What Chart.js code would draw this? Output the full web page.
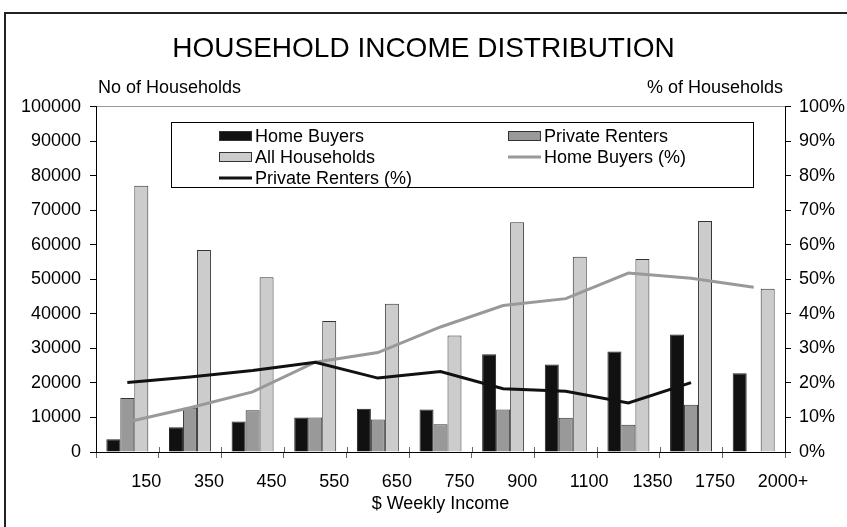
<!DOCTYPE html>
<html>
<head>
<meta charset="utf-8">
<title>Household Income Distribution</title>
<script src="https://cdn.jsdelivr.net/npm/chart.js@4"></script>
<style>
    body { margin: 0; background: #ffffff; }
    #wrap { width: 847px; height: 527px; position: relative; }
</style>
</head>
<body>
<div id="wrap"><canvas id="incomeChart" width="847" height="527"></canvas></div>
<script>
// Weekly income bands (x axis)
const incomeBands = ['150', '350', '450', '550', '650', '750', '900', '1100', '1350', '1750', '2000+'];

// Number of households (left axis)
const homeBuyers = [3700, 7200, 8800, 10000, 12500, 12300, 28300, 25300, 29100, 34000, 22800];
const privateRenters = [15600, 12800, 12100, 10000, 9400, 8000, 12300, 9900, 7900, 13700, null];
const allHouseholds = [77100, 58500, 50600, 37900, 42900, 33700, 66500, 56500, 55900, 66900, 47300];

// Percent of households (right axis)
const homeBuyersPct = [8.7, 12.8, 17.4, 26.0, 28.8, 36.2, 42.4, 44.4, 51.8, 50.3, 47.7];
const privateRentersPct = [20.1, 21.7, 23.6, 26.0, 21.4, 23.3, 18.3, 17.6, 14.2, 20.1];

// Axis ticks
const countMax = 100000;
const countStep = 10000;
const pctMax = 100;
const pctStep = 10;

const FONT = "'Liberation Sans', Arial, sans-serif";

// where each legend entry goes: [column x, row y]
const legendSlots = [[219, 136], [508, 136], [219, 157], [508, 157], [219, 178]];

// ── draws frame, axis captions and the boxed legend ──
const extrasPlugin = {
    id: 'extras',
    beforeDraw(chart) {
        const ctx = chart.ctx;
        ctx.save();
        ctx.strokeStyle = '#222';
        ctx.lineWidth = 2;
        ctx.strokeRect(5, 13, 900, 600);
        ctx.restore();
    },
    afterDraw(chart) {
        const ctx = chart.ctx;
        ctx.save();

        // short tick stubs above the x axis so the category ticks cross it
        const xs = chart.scales.x;
        const n = incomeBands.length;
        ctx.strokeStyle = '#666';
        ctx.lineWidth = 1;
        for (let i = 1; i < n; i++) {
            const px = Math.round(xs.left + i * (xs.width / n)) + 0.5;
            ctx.beginPath();
            ctx.moveTo(px, xs.top - 5);
            ctx.lineTo(px, xs.top);
            ctx.stroke();
        }

        ctx.font = '18px ' + FONT;
        ctx.fillStyle = '#000';
        ctx.textBaseline = 'middle';
        ctx.textAlign = 'left';
        ctx.fillText('No of Households', 98, 88);
        ctx.textAlign = 'right';
        ctx.fillText('% of Households', 783, 88);

        // legend box
        ctx.fillStyle = '#fff';
        ctx.fillRect(171, 122, 582, 65);
        ctx.strokeStyle = '#000';
        ctx.lineWidth = 1;
        ctx.strokeRect(171.5, 122.5, 582, 65);

        chart.data.datasets.forEach(function(ds, i) {
            const x = legendSlots[i][0];
            const y = legendSlots[i][1];
            if (ds.type === 'line') {
                ctx.strokeStyle = ds.borderColor;
                ctx.lineWidth = 3;
                ctx.beginPath();
                ctx.moveTo(x, y);
                ctx.lineTo(x + 33, y);
                ctx.stroke();
            } else {
                ctx.fillStyle = ds.backgroundColor;
                ctx.fillRect(x, y - 5, 33, 10);
                ctx.strokeStyle = '#333';
                ctx.lineWidth = 1;
                ctx.strokeRect(x + 0.5, y - 4.5, 32, 9);
            }
            ctx.fillStyle = '#000';
            ctx.textAlign = 'left';
            ctx.fillText(ds.label, x + 36, y + 1);
        });
        ctx.restore();
    }
};

let incomeChart = null;

function initChart() {
    const canvas = document.getElementById('incomeChart');
    const ctx = canvas.getContext('2d');

    incomeChart = new Chart(ctx, {
        type: 'bar',
        data: {
            labels: incomeBands,
            datasets: [
                {
                    label: 'Home Buyers',
                    data: homeBuyers,
                    backgroundColor: '#111111',
                    borderColor: '#222',
                    borderWidth: 1,
                    order: 2
                },
                {
                    label: 'Private Renters',
                    data: privateRenters,
                    backgroundColor: '#999999',
                    borderColor: '#333',
                    borderWidth: 1,
                    order: 2
                },
                {
                    label: 'All Households',
                    data: allHouseholds,
                    backgroundColor: '#cccccc',
                    borderColor: '#333',
                    borderWidth: 1,
                    order: 2
                },
                {
                    type: 'line',
                    label: 'Home Buyers (%)',
                    data: homeBuyersPct,
                    yAxisID: 'y1',
                    borderColor: '#999999',
                    borderWidth: 3,
                    pointRadius: 0,
                    tension: 0,
                    order: 1
                },
                {
                    type: 'line',
                    label: 'Private Renters (%)',
                    data: privateRentersPct,
                    yAxisID: 'y1',
                    borderColor: '#111111',
                    borderWidth: 3,
                    pointRadius: 0,
                    tension: 0,
                    order: 0
                }
            ]
        },
        options: {
            responsive: false,
            animation: false,
            datasets: {
                bar: { categoryPercentage: 0.67, barPercentage: 1.0 }
            },
            layout: { padding: { left: 0, right: 0, top: 0, bottom: 0 } },
            plugins: {
                legend: { display: false },
                tooltip: { enabled: false },
                title: {
                    display: true,
                    text: 'HOUSEHOLD INCOME DISTRIBUTION',
                    color: '#000',
                    font: { family: FONT, size: 28, weight: 'normal' },
                    padding: { top: 32, bottom: 41 }
                }
            },
            scales: {
                x: {
                    afterFit(scale) { scale.height = 75; },
                    grid: { offset: true, drawOnChartArea: false, tickLength: 6, tickColor: '#666' },
                    border: { color: '#000', width: 1 },
                    ticks: {
                        color: '#000',
                        font: { family: FONT, size: 18 },
                        align: 'start',
                        labelOffset: 4,
                        padding: 13,
                        maxRotation: 0,
                        autoSkip: false
                    },
                    title: {
                        display: true,
                        text: '$ Weekly Income',
                        color: '#000',
                        font: { family: FONT, size: 18 },
                        padding: { top: 0, bottom: 12 }
                    }
                },
                y: {
                    position: 'left',
                    min: 0,
                    max: countMax,
                    afterFit(scale) { scale.width = 96; },
                    grid: {
                        color: function(c) { return c.tick && c.tick.value === countMax ? '#999' : 'transparent'; },
                        tickColor: '#000',
                        tickLength: 6
                    },
                    border: { color: '#000', width: 1 },
                    ticks: {
                        stepSize: countStep,
                        color: '#000',
                        padding: 9,
                        font: { family: FONT, size: 18 },
                        callback: function(v) { return String(v); }
                    }
                },
                y1: {
                    position: 'right',
                    min: 0,
                    max: pctMax,
                    afterFit(scale) { scale.width = 62; },
                    grid: { drawOnChartArea: false, tickColor: '#000', tickLength: 6 },
                    border: { color: '#000', width: 1 },
                    ticks: {
                        stepSize: pctStep,
                        color: '#000',
                        padding: 8,
                        font: { family: FONT, size: 18 },
                        callback: function(v) { return v + '%'; }
                    }
                }
            }
        },
        plugins: [extrasPlugin]
    });
}

// Page load
document.addEventListener('DOMContentLoaded', function() {
    initChart();
});
</script>
</body>
</html>
